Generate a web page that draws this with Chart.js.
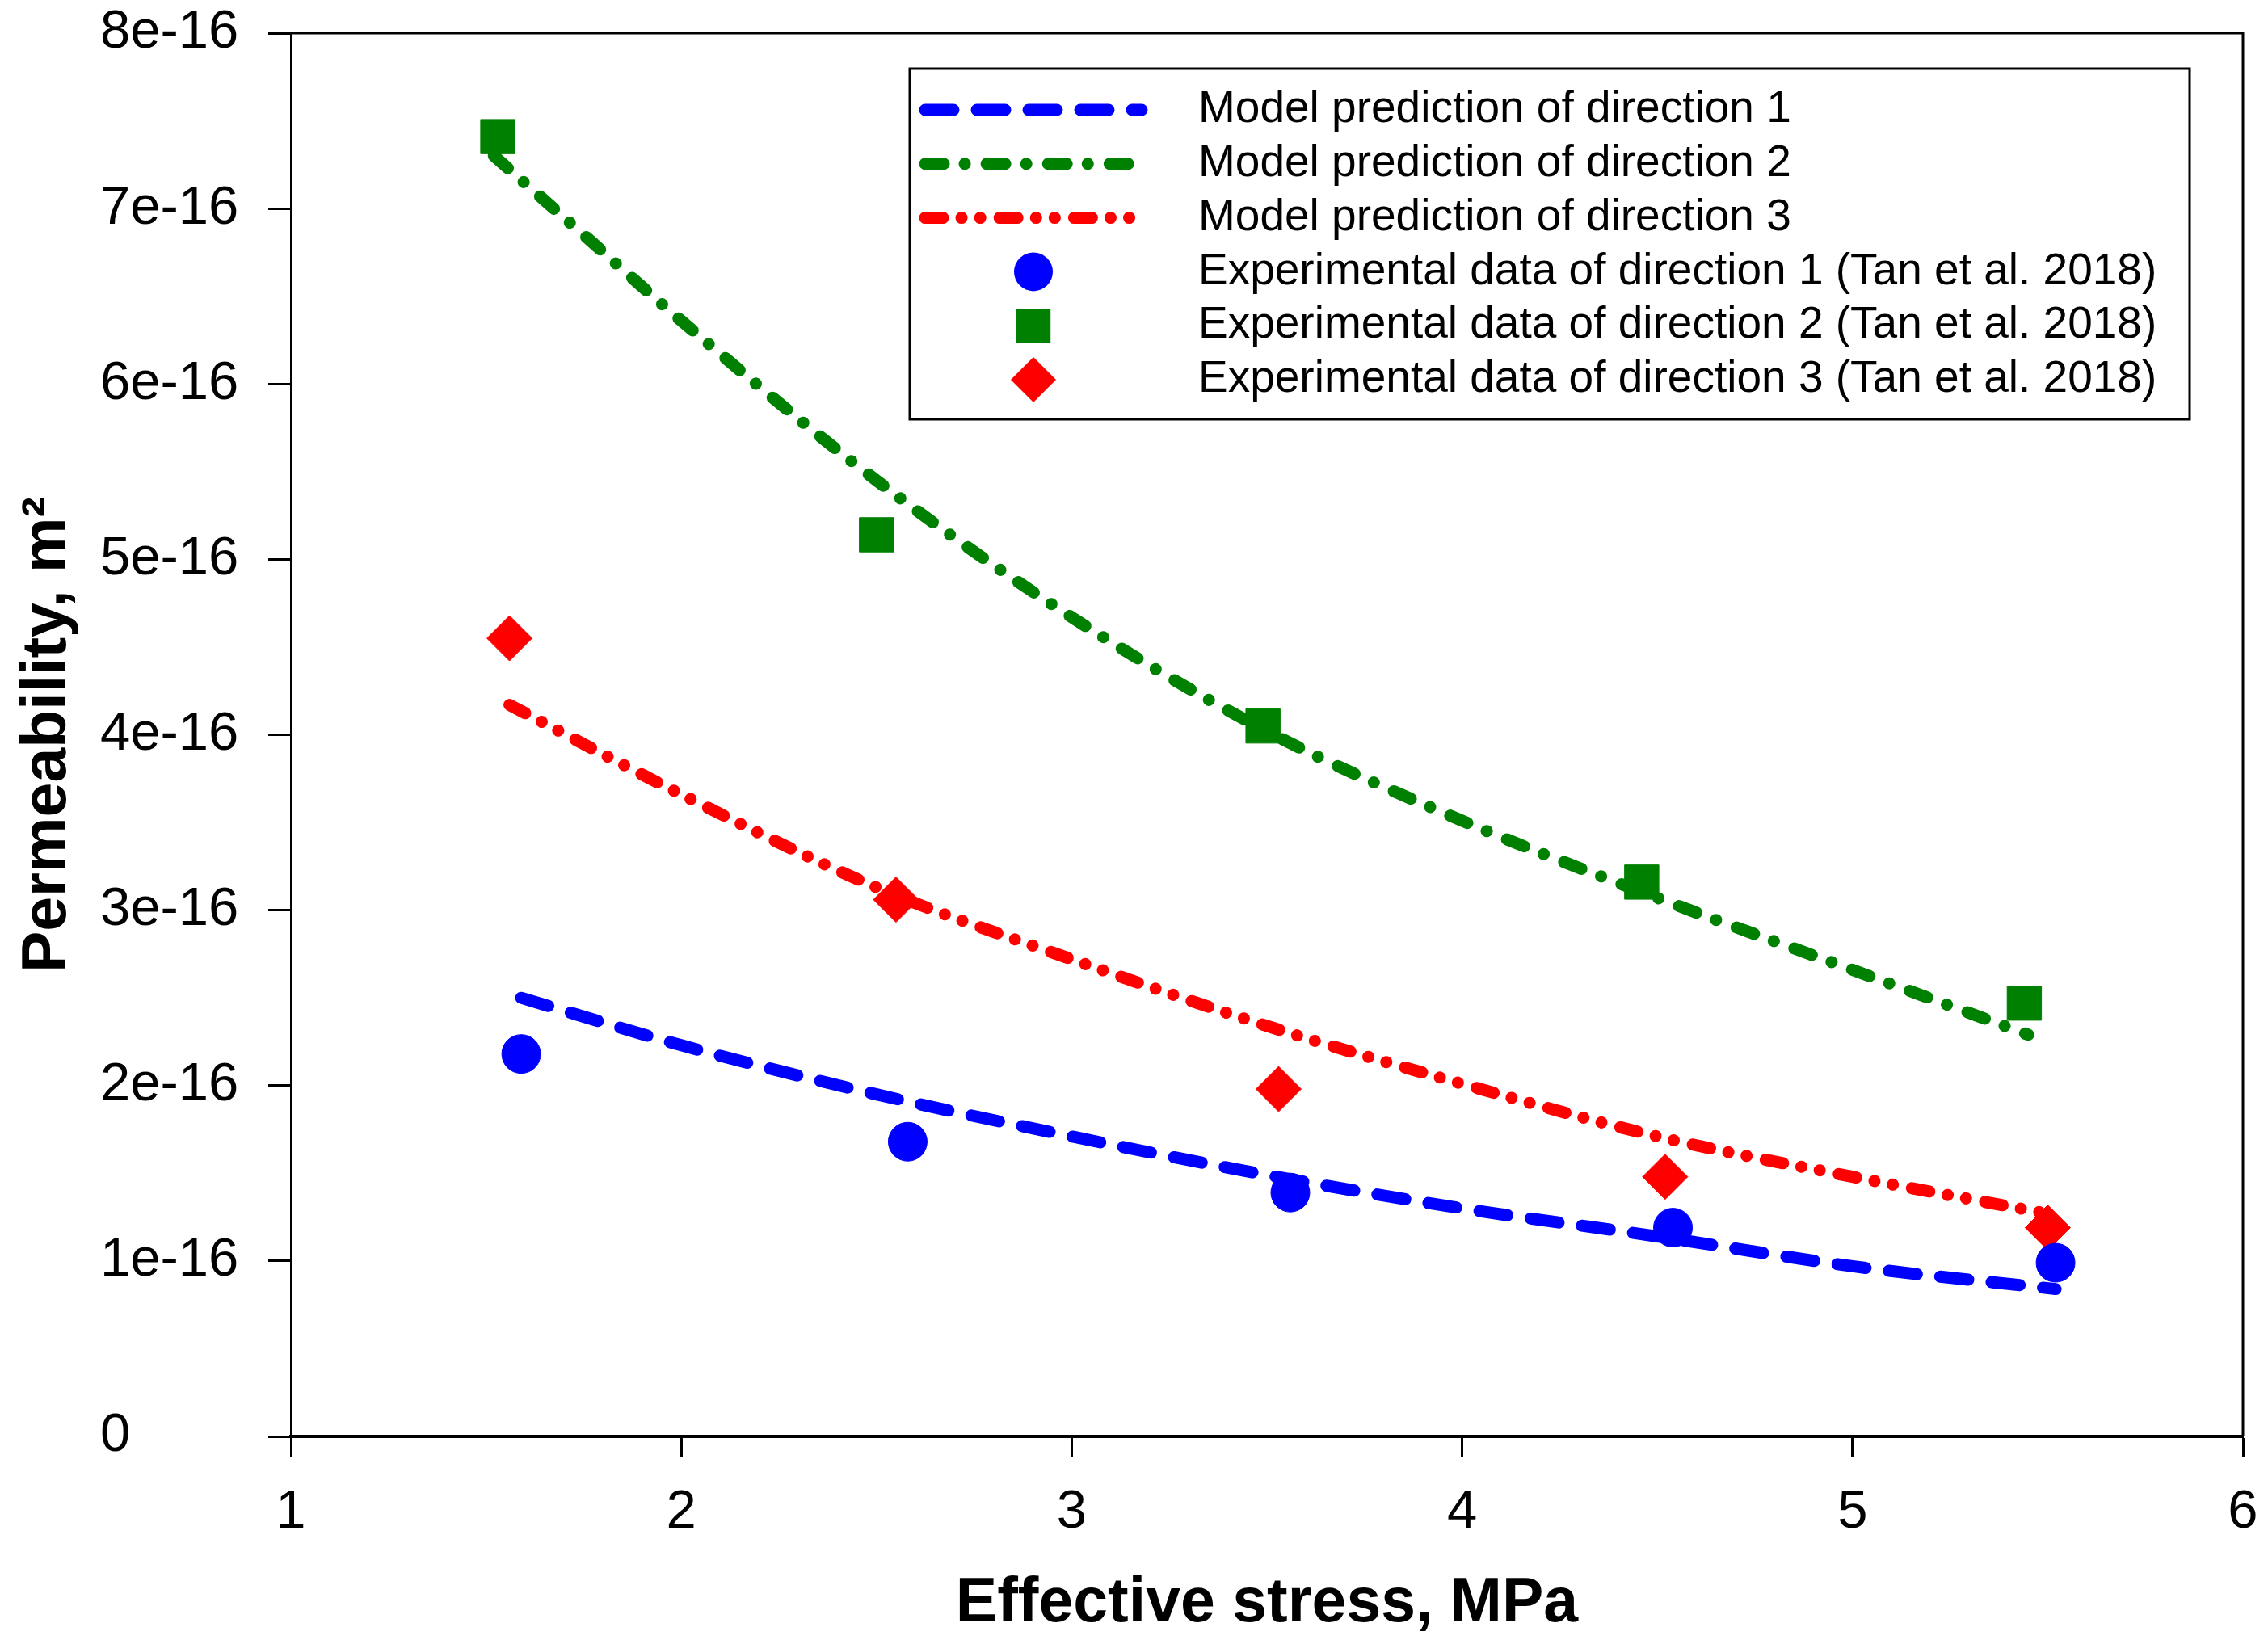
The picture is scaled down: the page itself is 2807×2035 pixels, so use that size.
<!DOCTYPE html>
<html>
<head>
<meta charset="utf-8">
<script src="https://cdn.jsdelivr.net/npm/chart.js@4.4.1/dist/chart.umd.min.js"></script>
<style>
html, body { margin: 0; padding: 0; background: #fff; }
#wrap { width: 2807px; height: 2035px; }
</style>
</head>
<body>
<div id="wrap"><canvas id="chart"></canvas></div>
<script>
// permeability values are in units of 1e-16 m^2, stress in MPa
const modelStress1 = [1.59, 2.0, 2.5, 3.0, 3.5, 4.0, 4.5, 5.0, 5.52];
const modelPerm1   = [2.50, 2.23, 1.95, 1.71, 1.49, 1.30, 1.14, 0.97, 0.84];

const modelStress2 = [1.52, 1.75, 2.0, 2.5, 3.0, 3.5, 4.0, 4.5, 5.0, 5.45];
const modelPerm2   = [7.30, 6.85, 6.36, 5.45, 4.67, 4.02, 3.51, 3.07, 2.66, 2.29];

const modelStress3 = [1.56, 2.0, 2.5, 3.0, 3.5, 4.0, 4.5, 5.0, 5.50];
const modelPerm3   = [4.17, 3.66, 3.13, 2.72, 2.34, 2.01, 1.71, 1.48, 1.27];

const expStress1 = [1.59, 2.58, 3.56, 4.54, 5.52];
const expPerm1   = [2.18, 1.68, 1.39, 1.19, 0.99];

const expStress2 = [1.53, 2.50, 3.49, 4.46, 5.44];
const expPerm2   = [7.41, 5.14, 4.05, 3.16, 2.47];

const expStress3 = [1.56, 2.55, 3.53, 4.52, 5.50];
const expPerm3   = [4.55, 3.06, 1.98, 1.48, 1.19];

const labels = [
    'Model prediction of direction 1',
    'Model prediction of direction 2',
    'Model prediction of direction 3',
    'Experimental data of direction 1 (Tan et al. 2018)',
    'Experimental data of direction 2 (Tan et al. 2018)',
    'Experimental data of direction 3 (Tan et al. 2018)'
];

const xTicks = [1, 2, 3, 4, 5, 6];
const yTicks = [0, 1, 2, 3, 4, 5, 6, 7, 8];

const BLUE = '#0000ff', GREEN = '#008000', RED = '#ff0000';
const FONT = '"Liberation Sans", Arial, sans-serif';

function pairs(xs, ys) {
    return xs.map((x, i) => ({ x: x, y: ys[i] }));
}

function modelSet(label, xs, ys, color, dash) {
    return {
        label: label,
        data: pairs(xs, ys),
        showLine: true,
        borderColor: color,
        backgroundColor: color,
        borderWidth: 15,
        borderDash: dash,
        borderCapStyle: 'round',
        cubicInterpolationMode: 'monotone',
        pointRadius: 0,
        order: 2
    };
}

function expSet(label, xs, ys, color, style, radius) {
    return {
        label: label,
        data: pairs(xs, ys),
        showLine: false,
        pointStyle: style,
        pointRadius: radius,
        pointBackgroundColor: color,
        pointBorderColor: color,
        pointBorderWidth: 1,
        backgroundColor: color,
        borderColor: color,
        order: 1
    };
}

// box around the plot area (top and right edges)
const frame = {
    id: 'frame',
    afterDatasetsDraw(chart) {
        const { ctx, chartArea: a } = chart;
        ctx.save();
        ctx.strokeStyle = '#000';
        ctx.lineWidth = 3;
        ctx.beginPath();
        ctx.moveTo(a.left, a.top);
        ctx.lineTo(a.right, a.top);
        ctx.lineTo(a.right, a.bottom);
        ctx.stroke();
        ctx.restore();
    }
};

// legend drawn as a bordered box inside the plot
const boxLegend = {
    id: 'boxLegend',
    afterDraw(chart) {
        const { ctx, chartArea: a } = chart;
        const left = a.left + 766, right = a.right - 66;
        const top = a.top + 44, bottom = top + 434;
        ctx.save();
        ctx.fillStyle = '#fff';
        ctx.fillRect(left, top, right - left, bottom - top);
        ctx.lineWidth = 3;
        ctx.strokeStyle = '#000';
        ctx.strokeRect(left, top, right - left, bottom - top);

        chart.data.datasets.forEach((ds, i) => {
            const y = top + 51 + i * 66.8;
            if (ds.showLine) {
                ctx.save();
                ctx.strokeStyle = ds.borderColor;
                ctx.lineWidth = ds.borderWidth;
                ctx.lineCap = 'round';
                ctx.setLineDash(ds.borderDash);
                ctx.beginPath();
                ctx.moveTo(left + 19, y);
                ctx.lineTo(left + 287, y);
                ctx.stroke();
                ctx.restore();
            } else {
                const cx = left + 153, r = ds.pointRadius;
                ctx.fillStyle = ds.pointBackgroundColor;
                ctx.beginPath();
                if (ds.pointStyle === 'circle') {
                    ctx.arc(cx, y, r, 0, Math.PI * 2);
                } else if (ds.pointStyle === 'rect') {
                    const s = r * Math.SQRT1_2;
                    ctx.rect(cx - s, y - s, 2 * s, 2 * s);
                } else {
                    ctx.moveTo(cx - r, y);
                    ctx.lineTo(cx, y - r);
                    ctx.lineTo(cx + r, y);
                    ctx.lineTo(cx, y + r);
                    ctx.closePath();
                }
                ctx.fill();
            }
            ctx.fillStyle = '#000';
            ctx.font = '55px ' + FONT;
            ctx.textBaseline = 'middle';
            ctx.textAlign = 'left';
            ctx.fillText(ds.label, left + 357, y);
        });
        ctx.restore();
    }
};

Chart.defaults.color = '#000';
Chart.defaults.font.family = FONT;

new Chart(document.getElementById('chart'), {
    type: 'scatter',
    data: {
        datasets: [
            modelSet(labels[0], modelStress1, modelPerm1, BLUE, [35, 29]),
            modelSet(labels[1], modelStress2, modelPerm2, GREEN, [23, 26, 0.1, 27]),
            modelSet(labels[2], modelStress3, modelPerm3, RED, [22, 23, 0.1, 23, 0.1, 24]),
            expSet(labels[3], expStress1, expPerm1, BLUE, 'circle', 24),
            expSet(labels[4], expStress2, expPerm2, GREEN, 'rect', 30),
            expSet(labels[5], expStress3, expPerm3, RED, 'rectRot', 28)
        ]
    },
    options: {
        responsive: true,
        maintainAspectRatio: false,
        animation: false,
        // left padding leaves room for the axis title; tick labels start after it
        layout: { padding: { top: 41, right: 25, left: 124, bottom: 0 } },
        plugins: {
            legend: { display: false },
            tooltip: { enabled: false }
        },
        scales: {
            x: {
                type: 'linear',
                min: xTicks[0],
                max: xTicks[xTicks.length - 1],
                afterBuildTicks(scale) {
                    scale.ticks = xTicks.map(v => ({ value: v }));
                },
                afterFit(scale) {
                    scale.height = 257;
                    scale.paddingLeft = 0;
                    scale.paddingRight = 0;
                },
                ticks: {
                    font: { size: 67 },
                    padding: 29,
                    callback: v => String(v)
                },
                grid: {
                    drawOnChartArea: false,
                    drawTicks: true,
                    tickLength: 25,
                    tickWidth: 3,
                    tickColor: '#000'
                },
                border: { display: true, color: '#000', width: 4 },
                title: {
                    display: true,
                    text: 'Effective stress, MPa',
                    font: { size: 77, weight: 'bold', lineHeight: 1.2 },
                    padding: { top: 0, bottom: 3 }
                }
            },
            y: {
                type: 'linear',
                min: yTicks[0],
                max: yTicks[yTicks.length - 1],
                afterBuildTicks(scale) {
                    scale.ticks = yTicks.map(v => ({ value: v }));
                },
                afterFit(scale) {
                    scale.width = 236;
                    scale.paddingTop = 0;
                    scale.paddingBottom = 0;
                },
                ticks: {
                    font: { size: 67 },
                    padding: 36,
                    crossAlign: 'far',
                    callback: v => v === 0 ? '0' : v + 'e-16'
                },
                grid: {
                    drawOnChartArea: false,
                    drawTicks: true,
                    tickLength: 28,
                    tickWidth: 3,
                    tickColor: '#000'
                },
                border: { display: true, color: '#000', width: 3 },
                title: {
                    display: true,
                    text: 'Permeability, m\u00b2',
                    font: { size: 77, weight: 'bold', lineHeight: 1.2 },
                    padding: { top: -110, bottom: 0 }
                }
            }
        }
    },
    plugins: [frame, boxLegend]
});
</script>
</body>
</html>
